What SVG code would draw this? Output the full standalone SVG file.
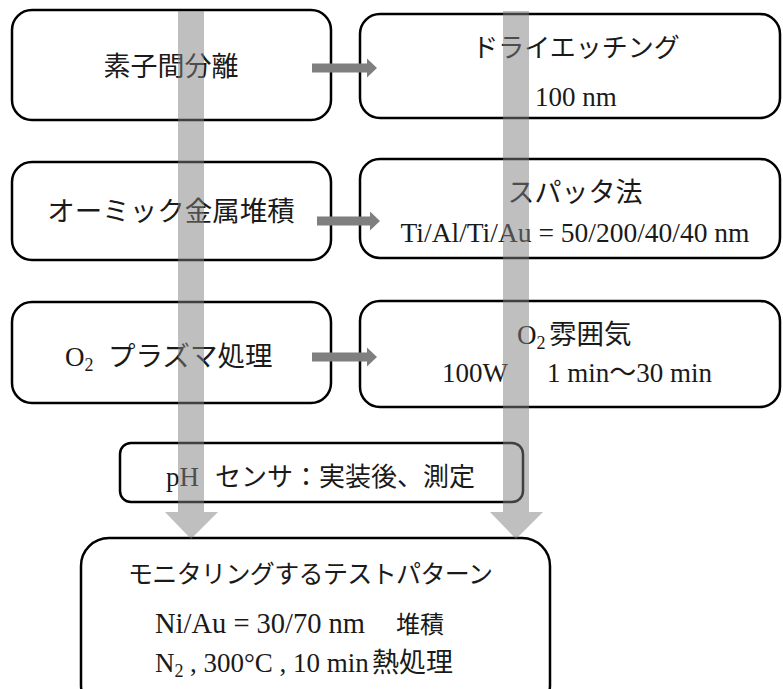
<svg xmlns="http://www.w3.org/2000/svg" width="783" height="689" viewBox="0 0 783 689">
<style>
.box{fill:#fff;stroke:#000;stroke-width:2.5}
text{font-family:"Liberation Serif","Noto Sans CJK JP",serif;fill:#1a1a1a;font-size:27px}
.c{text-anchor:middle}
.harrow{fill:#7f7f7f}
.varrow{fill:#7f7f7f;fill-opacity:0.5}
</style>
<rect width="783" height="689" fill="#fff"/>
<g id="n1"><rect class="box" x="12" y="10" width="319" height="110" rx="20"/><text class="c" x="171" y="76">素子間分離</text></g>
<g id="n2"><rect class="box" x="360" y="14" width="420" height="104" rx="20"/><text class="c" x="576" y="57" style="font-size:26px">ドライエッチング</text><text class="c" x="576" y="106">100 nm</text></g>
<g id="n3"><rect class="box" x="12" y="162" width="319" height="98" rx="20"/><text class="c" x="171" y="221" style="font-size:27.5px">オーミック金属堆積</text></g>
<g id="n4"><rect class="box" x="360" y="159" width="420" height="99" rx="20"/><text class="c" x="575" y="202">スパッタ法</text><text class="c" x="575" y="242" style="font-size:27.5px">Ti/Al/Ti/Au = 50/200/40/40 nm</text></g>
<g id="n5"><rect class="box" x="12" y="302" width="319" height="101" rx="20"/><text x="65" y="366">O<tspan style="font-size:18px" dy="5">2</tspan><tspan x="108" dy="-5" style="font-size:27.5px">プラズマ処理</tspan></text></g>
<g id="n6"><rect class="box" x="360" y="301" width="420" height="106" rx="20"/><text x="517" y="344">O<tspan style="font-size:18px" dy="5">2</tspan><tspan x="549" dy="-5" style="font-size:27.5px">雰囲気</tspan></text><text x="442" y="382">100W<tspan x="547">1 min～30 min</tspan></text></g>
<g id="n7"><rect class="box" x="120" y="443" width="403" height="59" rx="11"/><text x="166" y="486">pH<tspan x="215" style="font-size:26px">センサ：実装後、測定</tspan></text></g>
<g id="n8"><rect class="box" x="81" y="538" width="469" height="175" rx="28"/>
<text x="128" y="583" style="font-size:25px" textLength="365" lengthAdjust="spacing">モニタリングするテストパターン</text>
<text x="155" y="633" style="font-size:28.5px">Ni/Au = 30/70 nm</text><text x="396" y="633" style="font-size:24px">堆積</text>
<text x="155" y="672">N<tspan style="font-size:18px" dy="5">2</tspan></text><text x="190" y="672">, 300°C , 10 min</text><text x="372" y="672">熱処理</text>
</g>
<g id="connectors">
<polygon class="harrow" points="312,63.5 367,63.5 367,58.5 377,68 367,77.5 367,72.5 312,72.5"/>
<polygon class="harrow" points="317,216.5 370,216.5 370,211.5 380,221 370,230.5 370,225.5 317,225.5"/>
<polygon class="harrow" points="312,352.5 367,352.5 367,347.5 377,357 367,366.5 367,361.5 312,361.5"/>
<polygon class="varrow" points="178,11 204,11 204,512 218,512 191,539 165,512 178,512"/>
<polygon class="varrow" points="503,11 529,11 529,512 543,512 516,539 490,512 503,512"/>
</g>
</svg>
